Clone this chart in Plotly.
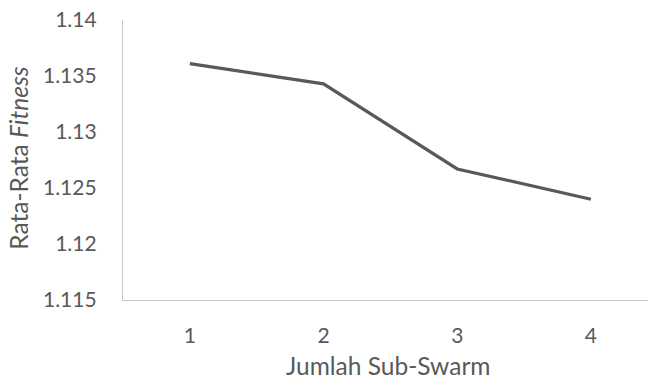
import plotly.graph_objects as go

# Average fitness per number of sub-swarms
sub_swarm = [1, 2, 3, 4]
avg_fitness = [1.1361, 1.1343, 1.1267, 1.1240]

y_ticks = [1.115, 1.12, 1.125, 1.13, 1.135, 1.14]
y_tick_labels = ["1.115", "1.12", "1.125", "1.13", "1.135", "1.14"]

text_color = "#595959"
axis_color = "#c9c9c9"
font_family = "Lato, Open Sans, sans-serif"

fig = go.Figure(
    go.Scatter(
        x=sub_swarm,
        y=avg_fitness,
        mode="lines",
        line=dict(color="#595959", width=3.2),
        hoverinfo="x+y",
    )
)

fig.update_layout(
    width=648,
    height=383,
    margin=dict(l=123, r=0, t=20, b=83),
    paper_bgcolor="white",
    plot_bgcolor="white",
    showlegend=False,
    font=dict(family=font_family, size=21, color=text_color),
    xaxis=dict(
        range=[0.5, 4.427],
        tickvals=sub_swarm,
        ticktext=[str(v) for v in sub_swarm],
        showgrid=False,
        zeroline=False,
        showline=True,
        linecolor=axis_color,
        linewidth=1.3,
        ticks="",
        ticklabelstandoff=17,
        tickfont=dict(size=21, color=text_color),
    ),
    yaxis=dict(
        range=[1.115, 1.14],
        tickvals=y_ticks,
        ticktext=y_tick_labels,
        showgrid=False,
        zeroline=False,
        showline=True,
        linecolor=axis_color,
        linewidth=1.3,
        ticks="",
        ticklabelstandoff=21,
        tickfont=dict(size=21, color=text_color),
    ),
    annotations=[
        dict(
            text="Jumlah Sub-Swarm",
            xref="paper", yref="paper",
            x=0.505, y=-0.235,
            xanchor="center", yanchor="middle",
            showarrow=False,
            font=dict(size=24.5, color=text_color),
        ),
        dict(
            text="Rata-Rata <i>Fitness</i>",
            xref="paper", yref="paper",
            x=-0.198, y=0.505,
            xanchor="center", yanchor="middle",
            textangle=-90,
            showarrow=False,
            font=dict(size=24.5, color=text_color),
        ),
    ],
)

fig.write_html("out.html")
